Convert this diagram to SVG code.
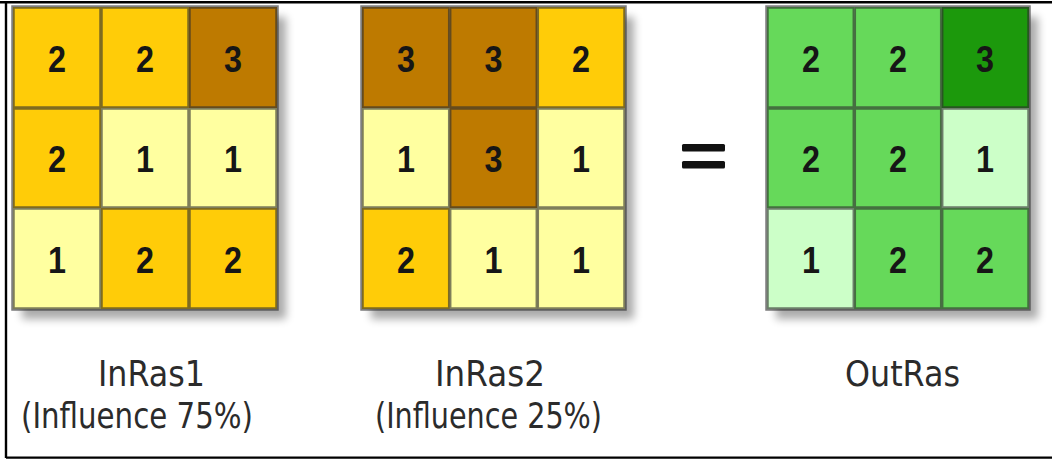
<svg xmlns="http://www.w3.org/2000/svg" width="1052" height="459" viewBox="0 0 1052 459">
  <style>
    .y1 { fill: #FFFFA0; }
    .y2 { fill: #FFCC08; }
    .y3 { fill: #BE7A00; }
    .g1 { fill: #CCFFC8; }
    .g2 { fill: #66D95A; }
    .g3 { fill: #1C990C; }
    .num { font-family: "Liberation Sans", Arial, sans-serif; font-size: 36px; font-weight: bold; fill: #161616; text-anchor: middle; }
    .lines { fill: none; stroke: #2e2e2e; stroke-opacity: 0.62; stroke-width: 3.5; }
    .lbl { font-family: "DejaVu Sans", Verdana, sans-serif; font-size: 35px; fill: #2b2b2b; }
    .frame { fill: none; stroke: #000000; stroke-width: 2.4; }
  </style>
  <defs>
    <filter id="drop" x="-20%" y="-20%" width="140%" height="140%">
      <feGaussianBlur stdDeviation="4"/>
    </filter>
  </defs>

  <rect x="0" y="0" width="1052" height="459" fill="#ffffff"/>

  <!-- frame -->
  <path class="frame" d="M0 2.2 H1052 M6 2 V458 M6 457.6 H1052"/>

  <!-- input raster 1 -->
  <g id="inras1">
    <rect x="22" y="17" width="264" height="302" fill="#000" opacity="0.33" filter="url(#drop)"/>
    <rect class="y2" x="13" y="7" width="88" height="101"/>
    <rect class="y2" x="101" y="7" width="88" height="101"/>
    <rect class="y3" x="189" y="7" width="88" height="101"/>
    <rect class="y2" x="13" y="108" width="88" height="100"/>
    <rect class="y1" x="101" y="108" width="88" height="100"/>
    <rect class="y1" x="189" y="108" width="88" height="100"/>
    <rect class="y1" x="13" y="208" width="88" height="101"/>
    <rect class="y2" x="101" y="208" width="88" height="101"/>
    <rect class="y2" x="189" y="208" width="88" height="101"/>
    <path class="lines" d="M13 7 H277 V309 H13 Z M101 7 V309 M189 7 V309 M13 108 H277 M13 208 H277"/>
    <text class="num" x="57" y="72" textLength="18" lengthAdjust="spacingAndGlyphs">2</text>
    <text class="num" x="145" y="72" textLength="18" lengthAdjust="spacingAndGlyphs">2</text>
    <text class="num" x="233" y="72" textLength="18" lengthAdjust="spacingAndGlyphs">3</text>
    <text class="num" x="57" y="172" textLength="18" lengthAdjust="spacingAndGlyphs">2</text>
    <text class="num" x="145" y="172" textLength="18" lengthAdjust="spacingAndGlyphs">1</text>
    <text class="num" x="233" y="172" textLength="18" lengthAdjust="spacingAndGlyphs">1</text>
    <text class="num" x="57" y="273" textLength="18" lengthAdjust="spacingAndGlyphs">1</text>
    <text class="num" x="145" y="273" textLength="18" lengthAdjust="spacingAndGlyphs">2</text>
    <text class="num" x="233" y="273" textLength="18" lengthAdjust="spacingAndGlyphs">2</text>
    <text class="lbl" x="98" y="386" textLength="107" lengthAdjust="spacingAndGlyphs">InRas1</text>
    <text class="lbl" x="21" y="428" textLength="232" lengthAdjust="spacingAndGlyphs">(Influence 75%)</text>
  </g>

  <!-- input raster 2 -->
  <g id="inras2">
    <rect x="371" y="17" width="263" height="302" fill="#000" opacity="0.33" filter="url(#drop)"/>
    <rect class="y3" x="362" y="7" width="87.7" height="101"/>
    <rect class="y3" x="449.7" y="7" width="87.6" height="101"/>
    <rect class="y2" x="537.3" y="7" width="87.7" height="101"/>
    <rect class="y1" x="362" y="108" width="87.7" height="100"/>
    <rect class="y3" x="449.7" y="108" width="87.6" height="100"/>
    <rect class="y1" x="537.3" y="108" width="87.7" height="100"/>
    <rect class="y2" x="362" y="208" width="87.7" height="101"/>
    <rect class="y1" x="449.7" y="208" width="87.6" height="101"/>
    <rect class="y1" x="537.3" y="208" width="87.7" height="101"/>
    <path class="lines" d="M362 7 H625 V309 H362 Z M449.7 7 V309 M537.3 7 V309 M362 108 H625 M362 208 H625"/>
    <text class="num" x="406" y="72" textLength="18" lengthAdjust="spacingAndGlyphs">3</text>
    <text class="num" x="493.5" y="72" textLength="18" lengthAdjust="spacingAndGlyphs">3</text>
    <text class="num" x="581" y="72" textLength="18" lengthAdjust="spacingAndGlyphs">2</text>
    <text class="num" x="406" y="172" textLength="18" lengthAdjust="spacingAndGlyphs">1</text>
    <text class="num" x="493.5" y="172" textLength="18" lengthAdjust="spacingAndGlyphs">3</text>
    <text class="num" x="581" y="172" textLength="18" lengthAdjust="spacingAndGlyphs">1</text>
    <text class="num" x="406" y="273" textLength="18" lengthAdjust="spacingAndGlyphs">2</text>
    <text class="num" x="493.5" y="273" textLength="18" lengthAdjust="spacingAndGlyphs">1</text>
    <text class="num" x="581" y="273" textLength="18" lengthAdjust="spacingAndGlyphs">1</text>
    <text class="lbl" x="435" y="386" textLength="110" lengthAdjust="spacingAndGlyphs">InRas2</text>
    <text class="lbl" x="375" y="428" textLength="227" lengthAdjust="spacingAndGlyphs">(Influence 25%)</text>
  </g>

  <!-- equals sign -->
  <g id="equals">
    <rect x="682" y="144" width="43" height="7.5" rx="1.5" fill="#111111"/>
    <rect x="682" y="161" width="43" height="7.5" rx="1.5" fill="#111111"/>
  </g>

  <!-- output raster -->
  <g id="outras">
    <rect x="776" y="17" width="262" height="302" fill="#000" opacity="0.33" filter="url(#drop)"/>
    <rect class="g2" x="767" y="7" width="87.3" height="101"/>
    <rect class="g2" x="854.3" y="7" width="87.4" height="101"/>
    <rect class="g3" x="941.7" y="7" width="87.3" height="101"/>
    <rect class="g2" x="767" y="108" width="87.3" height="100"/>
    <rect class="g2" x="854.3" y="108" width="87.4" height="100"/>
    <rect class="g1" x="941.7" y="108" width="87.3" height="100"/>
    <rect class="g1" x="767" y="208" width="87.3" height="101"/>
    <rect class="g2" x="854.3" y="208" width="87.4" height="101"/>
    <rect class="g2" x="941.7" y="208" width="87.3" height="101"/>
    <path class="lines" d="M767 7 H1029 V309 H767 Z M854.3 7 V309 M941.7 7 V309 M767 108 H1029 M767 208 H1029"/>
    <text class="num" x="811" y="72" textLength="18" lengthAdjust="spacingAndGlyphs">2</text>
    <text class="num" x="898" y="72" textLength="18" lengthAdjust="spacingAndGlyphs">2</text>
    <text class="num" x="985" y="72" textLength="18" lengthAdjust="spacingAndGlyphs">3</text>
    <text class="num" x="811" y="172" textLength="18" lengthAdjust="spacingAndGlyphs">2</text>
    <text class="num" x="898" y="172" textLength="18" lengthAdjust="spacingAndGlyphs">2</text>
    <text class="num" x="985" y="172" textLength="18" lengthAdjust="spacingAndGlyphs">1</text>
    <text class="num" x="811" y="273" textLength="18" lengthAdjust="spacingAndGlyphs">1</text>
    <text class="num" x="898" y="273" textLength="18" lengthAdjust="spacingAndGlyphs">2</text>
    <text class="num" x="985" y="273" textLength="18" lengthAdjust="spacingAndGlyphs">2</text>
    <text class="lbl" x="845" y="386" textLength="115" lengthAdjust="spacingAndGlyphs">OutRas</text>
  </g>
</svg>
